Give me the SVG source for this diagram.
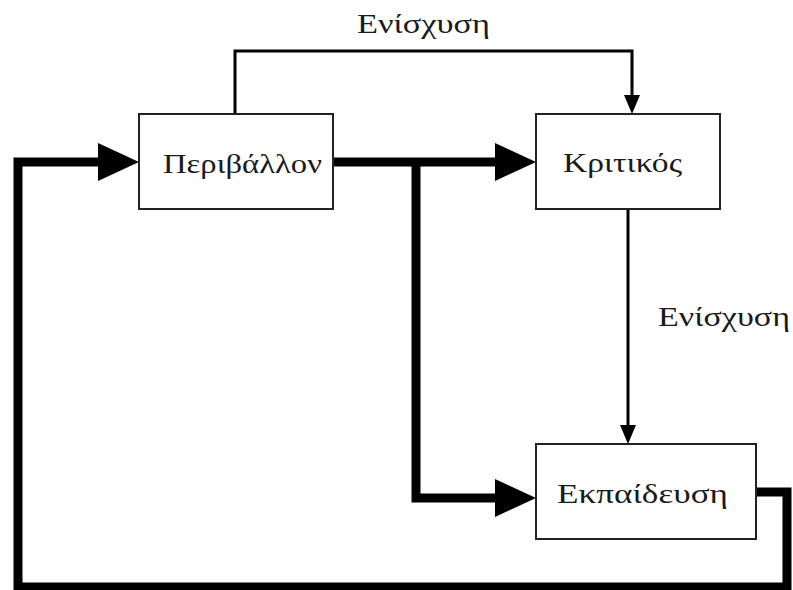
<svg xmlns="http://www.w3.org/2000/svg" width="793" height="590" viewBox="0 0 793 590">
  <style>
    .box { fill: #ffffff; stroke: #222; stroke-width: 2; }
    .lbl { font-family: "Liberation Serif", "DejaVu Serif", serif; font-size: 27px; fill: #1a1a1a; }
    .thick { fill: none; stroke: #000; stroke-width: 9; stroke-linejoin: miter; }
    .thin { fill: none; stroke: #000; stroke-width: 3; }
    .head { fill: #000; }
  </style>
  <rect width="793" height="590" fill="#fff"/>

  <g id="connectors">
    <!-- feedback loop: Εκπαίδευση back to Περιβάλλον -->
    <polyline class="thick" points="756,492 787,492 787,587 18,587 18,162 100,162"/>
    <polygon class="head" points="98,143 139,162 98,181"/>
    <!-- Περιβάλλον to Κριτικός -->
    <line class="thick" x1="333" y1="162" x2="497" y2="162"/>
    <polygon class="head" points="495,143 536,162 495,181"/>
    <!-- branch down to Εκπαίδευση -->
    <polyline class="thick" points="416,162 416,498 497,498"/>
    <polygon class="head" points="495,479 536,498 495,517"/>
    <!-- reinforcement from Περιβάλλον to Κριτικός (top) -->
    <polyline class="thin" points="235,114 235,51 632,51 632,98"/>
    <polygon class="head" points="624,95 632,114 640,95"/>
    <!-- reinforcement from Κριτικός to Εκπαίδευση -->
    <line class="thin" x1="628" y1="209" x2="628" y2="428"/>
    <polygon class="head" points="620,425 628,444 636,425"/>
    <text class="lbl" x="357" y="33" textLength="133" lengthAdjust="spacingAndGlyphs">Ενίσχυση</text>
    <text class="lbl" x="658" y="326" textLength="132" lengthAdjust="spacingAndGlyphs">Ενίσχυση</text>
  </g>

  <g id="environment">
    <rect class="box" x="139" y="114" width="194" height="95"/>
    <text class="lbl" x="163" y="173" textLength="159" lengthAdjust="spacingAndGlyphs">Περιβάλλον</text>
  </g>

  <g id="critic">
    <rect class="box" x="536" y="114" width="184" height="95"/>
    <text class="lbl" x="563" y="172" textLength="119" lengthAdjust="spacingAndGlyphs">Κριτικός</text>
  </g>

  <g id="training">
    <rect class="box" x="536" y="444" width="220" height="95"/>
    <text class="lbl" x="557" y="503" textLength="171" lengthAdjust="spacingAndGlyphs">Εκπαίδευση</text>
  </g>
</svg>
